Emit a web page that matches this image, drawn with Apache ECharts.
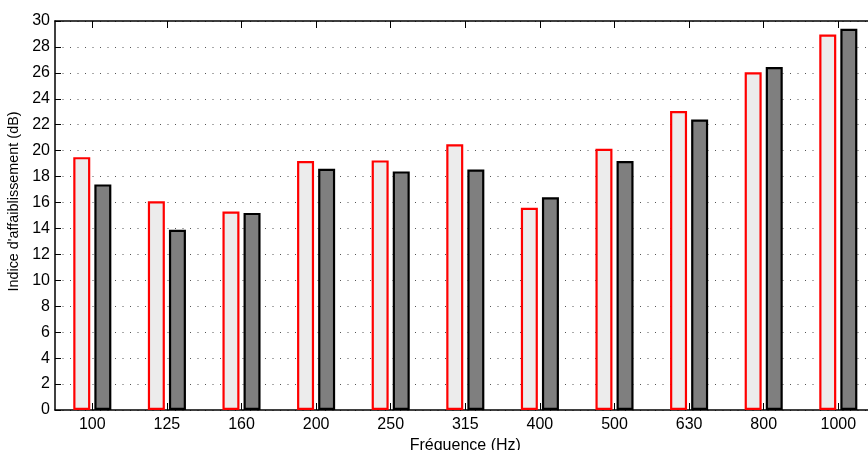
<!DOCTYPE html>
<html><head><meta charset="utf-8">
<script src="https://cdn.jsdelivr.net/npm/echarts@6/dist/echarts.min.js"></script>
<style>html,body{margin:0;padding:0;background:#fff}#c{width:868px;height:450px}</style>
</head><body><div id="c"></div>
<script>
const categories = ['100','125','160','200','250','315','400','500','630','800','1000'];
const seriesA = [19.5, 16.1, 15.3, 19.2, 19.25, 20.5, 15.6, 20.15, 23.05, 26.05, 28.95];
const seriesB = [17.4, 13.9, 15.2, 18.6, 18.4, 18.55, 16.4, 19.2, 22.4, 26.45, 29.4];
const yTicks = {min: 0, max: 30, interval: 2};

const font = '"Liberation Sans", Arial, Helvetica, sans-serif';
const chart = echarts.init(document.getElementById('c'), null, {renderer: 'canvas'});
chart.setOption({
  animation: false,
  backgroundColor: '#fff',
  grid: {left: 55, top: 21, width: 820.6, height: 389, containLabel: false, outerBoundsMode: 'none'},
  xAxis: [{
    type: 'category', data: categories, position: 'bottom',
    axisLine: {lineStyle: {color: '#000', width: 1.5}},
    axisTick: {show: true, inside: true, alignWithLabel: true, length: 7, lineStyle: {color: '#000'}},
    axisLabel: {color: '#000', fontSize: 16, fontFamily: font, margin: 7},
    name: 'Fréquence (Hz)', nameLocation: 'middle', nameGap: 23,
    nameTextStyle: {color: '#000', fontSize: 16, fontFamily: font},
    splitLine: {show: false}
  }, {
    type: 'category', data: categories, position: 'top',
    axisLine: {lineStyle: {color: '#000', width: 1.5}},
    axisTick: {show: true, inside: true, alignWithLabel: true, length: 7, lineStyle: {color: '#000'}},
    axisLabel: {show: false}, splitLine: {show: false}
  }],
  yAxis: [{
    type: 'value', min: yTicks.min, max: yTicks.max, interval: yTicks.interval,
    axisLine: {show: true, lineStyle: {color: '#000', width: 1.5}},
    axisTick: {show: true, inside: true, length: 6, lineStyle: {color: '#000'}},
    axisLabel: {color: '#000', fontSize: 16, fontFamily: font, margin: 5},
    name: "Indice d'affaiblissement (dB)", nameLocation: 'middle', nameGap: 27, nameRotate: 90,
    nameTextStyle: {color: '#000', fontSize: 14.4, fontFamily: font, padding: [0, 0, 0, 28]},
    splitLine: {show: true, lineStyle: {color: '#555', width: 1, type: [1, 6.5]}}
  }],
  series: [{
    type: 'bar', data: seriesA, barWidth: 17, barGap: '24%',
    itemStyle: {color: '#ececec', borderColor: '#ff0000', borderWidth: 2.2}
  }, {
    type: 'bar', data: seriesB, barWidth: 17,
    itemStyle: {color: '#7f7f7f', borderColor: '#000', borderWidth: 2.2}
  }]
});
</script></body></html>
